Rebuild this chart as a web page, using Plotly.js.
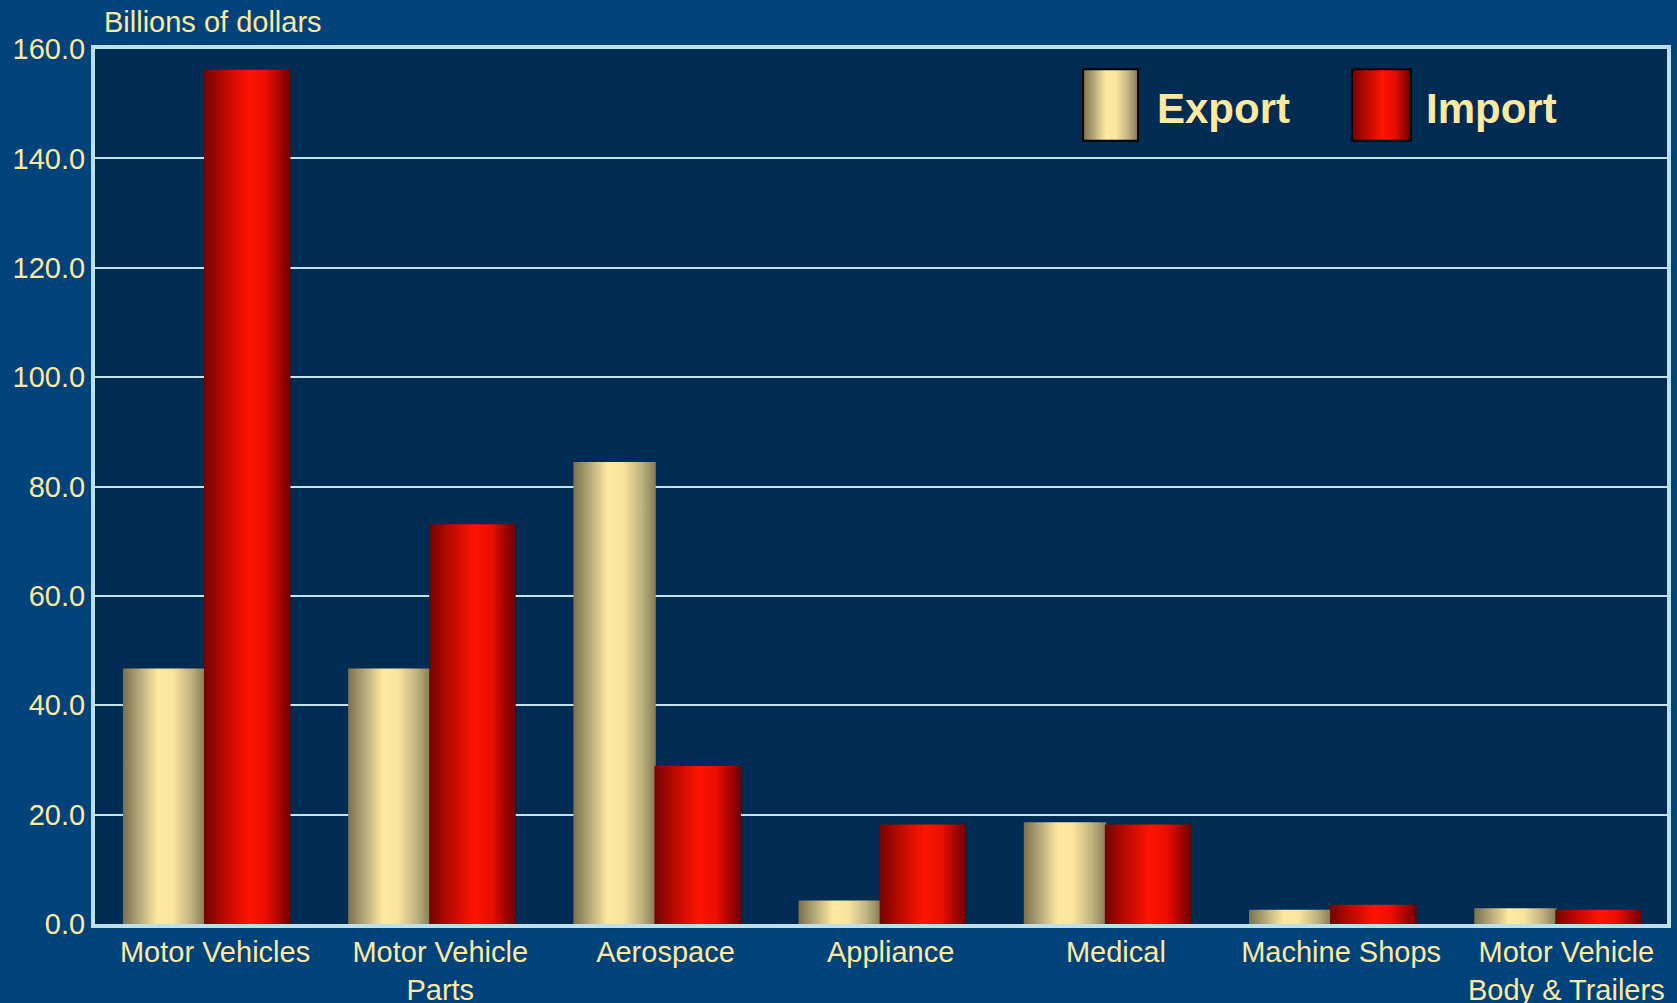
<!DOCTYPE html>
<html><head><meta charset="utf-8">
<script src="https://cdn.plot.ly/plotly-3.0.1.min.js"></script>
<style>html,body{margin:0;padding:0;background:#00437a;} #chart{width:1677px;height:1003px;}</style>
</head><body><div id="chart"></div>
<script>
const categories = ['Motor Vehicles', 'Motor Vehicle<br>Parts', 'Aerospace', 'Appliance', 'Medical', 'Machine Shops', 'Motor Vehicle<br>Body & Trailers'];
const exportValues = [46.7, 46.7, 84.5, 4.3, 18.6, 2.6, 2.9];
const importValues = [156.2, 73.1, 28.9, 18.2, 18.2, 3.5, 2.6];
const seriesNames = ['Export', 'Import'];
const yTickValues = [0, 20, 40, 60, 80, 100, 120, 140, 160];
const yAxisLabel = 'Billions of dollars';

const cream = '#ffe9a0';
const font = '"Liberation Sans", Arial, Helvetica, sans-serif';
const frame = '#bde0ea';

const traces = [
  {type: 'bar', name: seriesNames[0], x: categories, y: exportValues,
   offset: -0.409, width: 0.366,
   marker: {color: '#e8d690', line: {width: 0}}, hoverinfo: 'y'},
  {type: 'bar', name: seriesNames[1], x: categories, y: importValues,
   offset: -0.049, width: 0.384,
   marker: {color: '#e01000', line: {width: 0}}, hoverinfo: 'y'}
];

const layout = {
  width: 1677, height: 1003,
  margin: {l: 95, r: 10, t: 49, b: 79, pad: 0},
  paper_bgcolor: '#00437a',
  plot_bgcolor: '#002b52',
  barmode: 'overlay',
  showlegend: false,
  xaxis: {
    type: 'category', range: [-0.533, 6.447], showgrid: false, zeroline: false,
    showline: true, mirror: true, linecolor: frame, linewidth: 4,
    ticks: '', tickfont: {family: font, size: 29, color: cream},
    ticklabelstandoff: -1
  },
  yaxis: {
    range: [0, 160], tickvals: yTickValues, tickformat: '.1f',
    showgrid: true, gridcolor: '#c6e2ec', gridwidth: 2, zeroline: false,
    showline: true, mirror: true, linecolor: frame, linewidth: 4,
    ticks: '', tickfont: {family: font, size: 29, color: cream},
    ticklabelstandoff: 0
  },
  shapes: [
    {type: 'rect', xref: 'paper', yref: 'paper', x0: 0.6285, x1: 0.6635, y0: 0.8952, y1: 0.9768,
     fillcolor: '#e8d690', line: {color: '#000000', width: 2}},
    {type: 'rect', xref: 'paper', yref: 'paper', x0: 0.7996, x1: 0.8370, y0: 0.8952, y1: 0.9768,
     fillcolor: '#e01000', line: {color: '#000000', width: 2}}
  ],
  annotations: [
    {text: seriesNames[0], xref: 'paper', yref: 'paper', x: 0.6743, y: 0.932, xanchor: 'left', yanchor: 'middle',
     showarrow: false, font: {family: font, size: 42, color: cream, weight: 'bold'}},
    {text: seriesNames[1], xref: 'paper', yref: 'paper', x: 0.8457, y: 0.932, xanchor: 'left', yanchor: 'middle',
     showarrow: false, font: {family: font, size: 42, color: cream, weight: 'bold'}},
    {text: yAxisLabel, xref: 'paper', yref: 'paper', x: 0.0045, y: 1.0309, xanchor: 'left', yanchor: 'middle',
     showarrow: false, font: {family: font, size: 29, color: cream}}
  ]
};

const gradStops = {
  gExport: [[0, '#7a704c'], [0.18, '#b0a375'], [0.42, '#ffe9a0'], [0.6, '#f9e59e'], [0.82, '#c2b482'], [1, '#857a54']],
  gImport: [[0, '#720400'], [0.22, '#b80800'], [0.52, '#ff1400'], [0.72, '#e80e00'], [0.9, '#9a0400'], [1, '#6a0000']]
};

function applyGradients(gd) {
  const svg = gd.querySelector('svg.main-svg');
  if (!svg) return;
  let defs = svg.querySelector('defs');
  const NS = 'http://www.w3.org/2000/svg';
  if (!defs) { defs = document.createElementNS(NS, 'defs'); svg.insertBefore(defs, svg.firstChild); }
  Object.keys(gradStops).forEach(id => {
    if (document.getElementById(id)) return;
    const lg = document.createElementNS(NS, 'linearGradient');
    lg.setAttribute('id', id);
    lg.setAttribute('x1', '0'); lg.setAttribute('x2', '1');
    lg.setAttribute('y1', '0'); lg.setAttribute('y2', '0');
    gradStops[id].forEach(s => {
      const st = document.createElementNS(NS, 'stop');
      st.setAttribute('offset', s[0]);
      st.setAttribute('stop-color', s[1]);
      lg.appendChild(st);
    });
    defs.appendChild(lg);
  });
  const ids = ['gExport', 'gImport'];
  gd.querySelectorAll('.barlayer .trace').forEach((tr, i) => {
    tr.querySelectorAll('path').forEach(p => { p.style.fill = 'url(#' + ids[i] + ')'; });
  });
  gd.querySelectorAll('.shapelayer path[data-index]').forEach(p => {
    const idx = +p.getAttribute('data-index');
    if (idx < 2) p.style.fill = 'url(#' + ids[idx] + ')';
  });
}

const gd = document.getElementById('chart');
Plotly.newPlot(gd, traces, layout, {displayModeBar: false, staticPlot: true}).then(() => {
  applyGradients(gd);
  gd.on('plotly_afterplot', () => applyGradients(gd));
});
</script>
</body></html>
